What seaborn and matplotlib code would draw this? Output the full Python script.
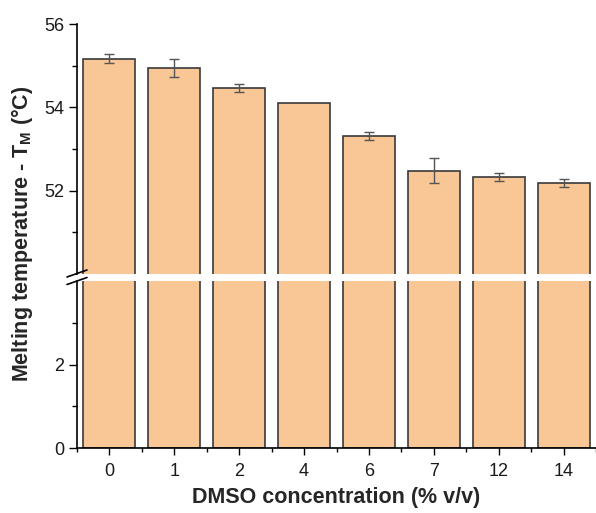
import numpy as np
import pandas as pd
import matplotlib
matplotlib.use("Agg")
import matplotlib.pyplot as plt
from matplotlib.ticker import MultipleLocator, FixedLocator
import seaborn as sns

# DMSO concentration (% v/v) and melting temperature T_M (°C) with standard deviation
concentration = ["0", "1", "2", "4", "6", "7", "12", "14"]
tm_mean = [55.17, 54.95, 54.46, 54.10, 53.32, 52.48, 52.33, 52.18]
tm_sd = [0.11, 0.21, 0.10, 0.0, 0.10, 0.30, 0.10, 0.10]

df = pd.DataFrame({"conc": concentration, "tm": tm_mean, "sd": tm_sd})

sns.set_theme(style="ticks")
plt.rcParams["font.family"] = ["Liberation Sans", "DejaVu Sans"]
plt.rcParams["mathtext.fontset"] = "custom"
plt.rcParams["mathtext.rm"] = "Liberation Sans"
plt.rcParams["mathtext.bf"] = "Liberation Sans:bold"

bar_color = "#F9C795"
edge_color = "#3a3a3a"
tick_fs = 13
label_fs = 15.5

fig = plt.figure(figsize=(5.96, 5.13), dpi=100)
left, width = 0.1292, 0.8708
ax_top = fig.add_axes([left, 0.4659, width, 0.4873])
ax_bot = fig.add_axes([left, 0.1267, width, 0.3255])

for ax in (ax_top, ax_bot):
    sns.barplot(data=df, x="conc", y="tm", order=concentration, color=bar_color,
                saturation=1, edgecolor=edge_color, linewidth=1.2, width=0.8,
                errorbar=None, ax=ax)
    ax.set_xlim(-0.5, 7.5)
    ax.set_xlabel("")
    ax.set_ylabel("")
    for s in ("top", "right"):
        ax.spines[s].set_visible(False)
    ax.spines["left"].set_linewidth(1.2)
    ax.spines["left"].set_color("black")
    ax.tick_params(axis="y", which="major", length=6, width=1.0, labelsize=tick_fs,
                   color="black", labelcolor="#1a1a1a", pad=3)
    ax.tick_params(axis="y", which="minor", length=3.5, width=1.0, color="black")

# error bars on the upper panel only
sel = df[df["sd"] > 0]
xpos = [concentration.index(c) for c in sel["conc"]]
ax_top.errorbar(xpos, sel["tm"], yerr=sel["sd"], fmt="none", ecolor="#555555",
                elinewidth=1.0, capsize=3.5, capthick=1.0, zorder=5)

ax_top.set_ylim(50, 56)
ax_top.yaxis.set_major_locator(FixedLocator([52, 54, 56]))
ax_top.yaxis.set_minor_locator(FixedLocator([51, 53, 55]))
ax_top.spines["bottom"].set_visible(False)
ax_top.tick_params(axis="x", which="both", bottom=False, labelbottom=False)

ax_bot.set_ylim(0, 4)
ax_bot.yaxis.set_major_locator(FixedLocator([0, 2]))
ax_bot.yaxis.set_minor_locator(FixedLocator([1, 3]))
ax_bot.spines["bottom"].set_linewidth(1.2)
ax_bot.spines["bottom"].set_color("black")
ax_bot.xaxis.set_minor_locator(MultipleLocator(1, offset=0.5))
ax_bot.tick_params(axis="x", which="major", length=5, width=1.0, labelsize=tick_fs,
                   color="black", labelcolor="#1a1a1a", pad=6)
ax_bot.tick_params(axis="x", which="minor", length=3, width=1.0, color="black")

# break marks on the y axis
for y_fig in (1 - 273.5 / 513, 1 - 281.0 / 513):
    x0 = 67 / 596
    x1 = 87 / 596
    dy = 3.5 / 513
    fig.add_artist(plt.Line2D([x0, x1], [y_fig - dy, y_fig + dy],
                              color="black", lw=1.2))

fig.text(0.5 * (77 + 596) / 596, 1 - 497 / 513, "DMSO concentration (% v/v)",
         ha="center", va="center", fontsize=label_fs, fontweight="bold")
fig.text(22 / 596, 1 - 234 / 513, r"Melting temperature - T$_\mathbf{M}$ (°C)",
         ha="center", va="center", rotation=90, fontsize=label_fs, fontweight="bold")

fig.savefig("out.png", dpi=100)
